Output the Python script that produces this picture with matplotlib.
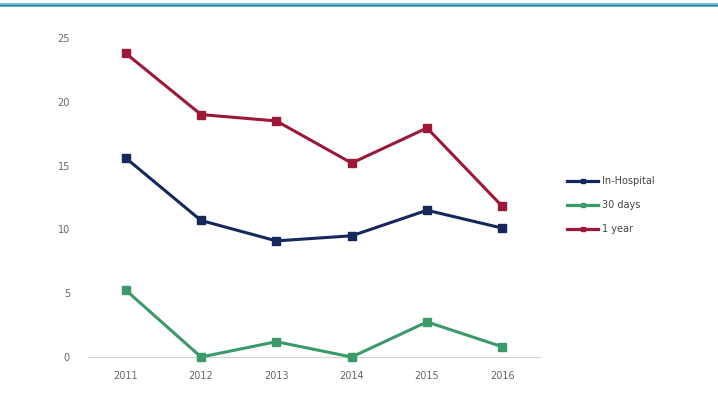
import matplotlib
matplotlib.use("Agg")
import matplotlib.pyplot as plt
from matplotlib.lines import Line2D

# ---------------- DATA ----------------
years = [2011, 2012, 2013, 2014, 2015, 2016]
in_hospital = [15.6, 10.7, 9.1, 9.5, 11.5, 10.1]
days_30 = [5.25, 0.0, 1.2, 0.0, 2.75, 0.8]
one_year = [23.8, 19.0, 18.5, 15.2, 17.95, 11.8]

series_names = ["In-Hospital", "30 days", "1 year"]
series_colors = ["#16275c", "#3a9a68", "#9c1738"]

# ---------------- CHART ----------------
fig = plt.figure(figsize=(7.18, 3.98), dpi=100)
fig.patch.set_facecolor("white")

# teal rule across the top
fig.add_artist(Line2D([0, 1], [0.987, 0.987], transform=fig.transFigure,
                      color="#7cc3d8", lw=3.0))
fig.add_artist(Line2D([0, 1], [0.987, 0.987], transform=fig.transFigure,
                      color="#2f7f99", lw=1.0))

ax = fig.add_axes([0.1226, 0.103, 0.6295, 0.8015])

for vals, name, col in zip([in_hospital, days_30, one_year], series_names, series_colors):
    ax.plot(years, vals, color=col, lw=2.2, marker="s", markersize=6,
            label=name, zorder=3, clip_on=False)

ax.set_xlim(2010.5, 2016.5)
ax.set_ylim(0, 25)
ax.set_yticks([0, 5, 10, 15, 20, 25])
ax.set_xticks(years)

for s in ["top", "right", "left"]:
    ax.spines[s].set_visible(False)
ax.spines["bottom"].set_color("#d0d0d0")
ax.spines["bottom"].set_linewidth(0.8)

ax.tick_params(axis="both", length=0, labelsize=7, colors="#666666")
ax.tick_params(axis="y", pad=13)
ax.tick_params(axis="x", pad=10)

handles = [Line2D([0], [0], color=c, lw=2.3, marker="s", markersize=3)
           for c in series_colors]
fig.legend(handles, series_names, loc="upper left",
           bbox_to_anchor=(0.778, 0.58), frameon=False, fontsize=7,
           labelcolor="#444444", handlelength=3.2, handletextpad=0.4,
           labelspacing=1.45)

plt.savefig("out.png", dpi=100)
